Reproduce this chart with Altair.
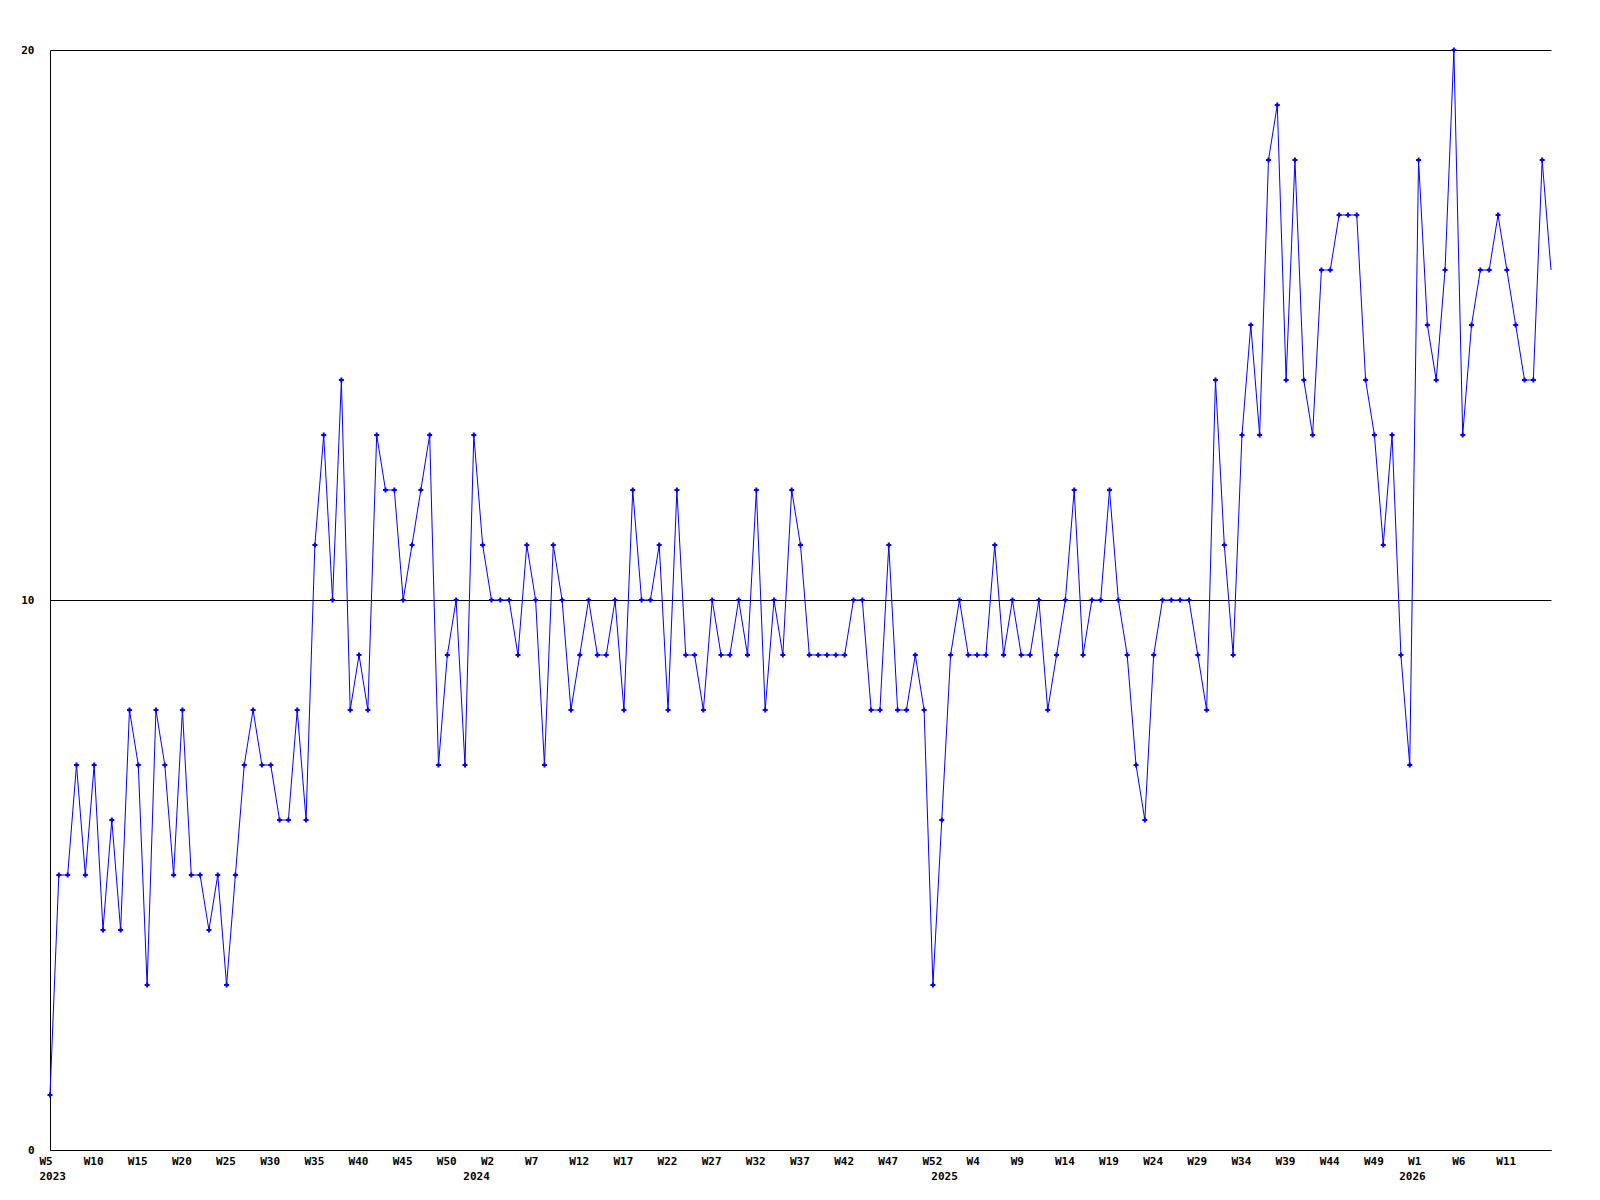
import altair as alt
import pandas as pd

# Weekly values (2023 W5 .. 2026 W16)
values = [
    1, 5, 5, 7, 5, 7, 4, 6, 4, 8,
    7, 3, 8, 7, 5, 8, 5, 5, 4, 5,
    3, 5, 7, 8, 7, 7, 6, 6, 8, 6,
    11, 13, 10, 14, 8, 9, 8, 13, 12, 12,
    10, 11, 12, 13, 7, 9, 10, 7, 13, 11,
    10, 10, 10, 9, 11, 10, 7, 11, 10, 8,
    9, 10, 9, 9, 10, 8, 12, 10, 10, 11,
    8, 12, 9, 9, 8, 10, 9, 9, 10, 9,
    12, 8, 10, 9, 12, 11, 9, 9, 9, 9,
    9, 10, 10, 8, 8, 11, 8, 8, 9, 8,
    3, 6, 9, 10, 9, 9, 9, 11, 9, 10,
    9, 9, 10, 8, 9, 10, 12, 9, 10, 10,
    12, 10, 9, 7, 6, 9, 10, 10, 10, 10,
    9, 8, 14, 11, 9, 13, 15, 13, 18, 19,
    14, 18, 14, 13, 16, 16, 17, 17, 17, 14,
    13, 11, 13, 9, 7, 18, 15, 14, 16, 20,
    13, 15, 16, 16, 17, 16, 15, 14, 14, 18,
    16,
]

# (year, first week, last week) covered by the series
year_spans = [(2023, 5, 53), (2024, 1, 53), (2025, 1, 53), (2026, 1, 16)]
y_ticks = [0, 10, 20]
label_step = 5

weeks, years = [], []
for yr, w0, w1 in year_spans:
    for w in range(w0, w1 + 1):
        weeks.append(w)
        years.append(yr)
assert len(weeks) == len(values)

n = len(values)
df = pd.DataFrame({"idx": list(range(n)), "value": values})

# week labels every 5 points (none on the final, edge point)
tick_idx = list(range(0, n - 1, label_step))
tick_df = pd.DataFrame({"idx": tick_idx, "label": [f"W{weeks[i]}" for i in tick_idx]})

# year label sits on the first point, then on the last week of each previous year
year_idx = [0]
for i in range(1, len(years)):
    if years[i] != years[i - 1]:
        year_idx.append(i - 1)
year_df = pd.DataFrame({"idx": year_idx,
                        "label": [str(yr) for yr, _, _ in year_spans]})

FONT = "DejaVu Sans Mono"
xscale = alt.Scale(domain=[0, n - 1], nice=False, zero=False)
yscale = alt.Scale(domain=[0, 20], nice=False, zero=True)

base = alt.Chart(df)

line = base.mark_line(color="#0000FF", strokeWidth=1).encode(
    x=alt.X("idx:Q", scale=xscale,
            axis=alt.Axis(labels=False, ticks=False, grid=False, title=None,
                          domainColor="black", domainWidth=1)),
    y=alt.Y("value:Q", scale=yscale,
            axis=alt.Axis(values=y_ticks, title=None, ticks=False, grid=True,
                          gridColor="black", gridOpacity=1, gridWidth=1,
                          domainColor="black", domainWidth=1,
                          labelFont=FONT, labelFontSize=11, labelFontWeight="bold",
                          labelColor="black", labelPadding=16)),
)

points = base.transform_filter(alt.datum.idx < n - 1).mark_point(
    shape="cross", filled=True, color="#0000FF", size=25, opacity=1
).encode(
    x=alt.X("idx:Q", scale=xscale),
    y=alt.Y("value:Q", scale=yscale),
)

week_text = alt.Chart(tick_df).mark_text(
    align="left", baseline="middle", dx=-10.5, font=FONT, fontSize=11,
    fontWeight="bold", color="black"
).encode(x=alt.X("idx:Q", scale=xscale), y=alt.value(1112), text="label:N")

year_text = alt.Chart(year_df).mark_text(
    align="left", baseline="middle", dx=-10.5, font=FONT, fontSize=11,
    fontWeight="bold", color="black"
).encode(x=alt.X("idx:Q", scale=xscale), y=alt.value(1127), text="label:N")

chart = alt.layer(line, points, week_text, year_text).properties(
    width=1501, height=1100,
    autosize=alt.AutoSizeParams(type="none"),
    padding={"left": 42, "top": 42, "right": 41, "bottom": 42},
    background="white",
).configure_view(stroke=None)

chart.save("out.html", embed_options={"renderer": "svg", "actions": False})
